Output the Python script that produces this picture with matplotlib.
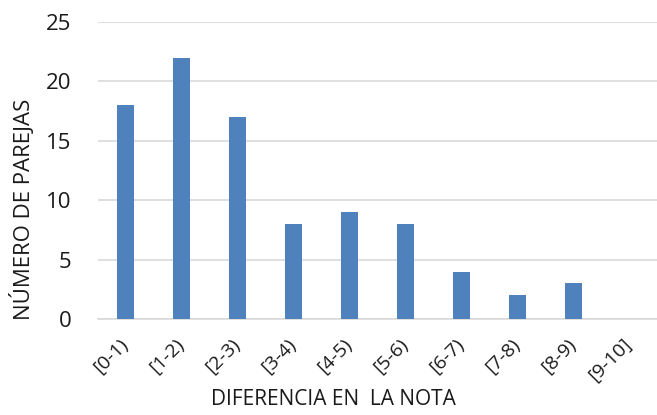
import matplotlib
matplotlib.use("Agg")
import matplotlib.pyplot as plt

categories = ["[0-1)", "[1-2)", "[2-3)", "[3-4)", "[4-5)", "[5-6)", "[6-7)", "[7-8)", "[8-9)", "[9-10]"]
parejas = [18, 22, 17, 8, 9, 8, 4, 2, 3, 0]
y_ticks = [0, 5, 10, 15, 20, 25]

plt.rcParams["font.family"] = ["Open Sans", "DejaVu Sans"]
text_color = "#1a1a1a"

fig = plt.figure(figsize=(6.57, 4.15), dpi=100)
ax = fig.add_axes([0.149, 0.231, 0.851, 0.716])

x = range(len(categories))
ax.bar(x, parejas, width=0.3, color="#4F81BD", zorder=3)

ax.set_xlim(-0.5, len(categories) - 0.5)
ax.set_ylim(0, 25)
ax.set_yticks(y_ticks)
ax.yaxis.grid(True, color="#D9D9D9", linewidth=1.2, zorder=0)
ax.set_xticks(list(x))
ax.set_xticklabels(categories, rotation=45, ha="right", va="center",
                   rotation_mode="anchor", fontsize=14, color=text_color)
ax.tick_params(axis="y", labelsize=16, length=0, pad=19, labelcolor=text_color)
ax.tick_params(axis="x", length=0, pad=16)

for side in ("top", "right", "left"):
    ax.spines[side].set_visible(False)
ax.spines["bottom"].set_color("#D9D9D9")
ax.spines["bottom"].set_linewidth(1.2)

ax.set_xlabel("DIFERENCIA EN  LA NOTA", fontsize=15, color=text_color)
ax.xaxis.set_label_coords(0.422, -0.27)
ax.xaxis.label.set_verticalalignment("center")
ax.set_ylabel("NÚMERO DE PAREJAS", fontsize=16, color=text_color)
ax.yaxis.set_label_coords(-0.134, 0.37)
ax.yaxis.label.set_verticalalignment("center")

fig.savefig("out.png", dpi=100)
